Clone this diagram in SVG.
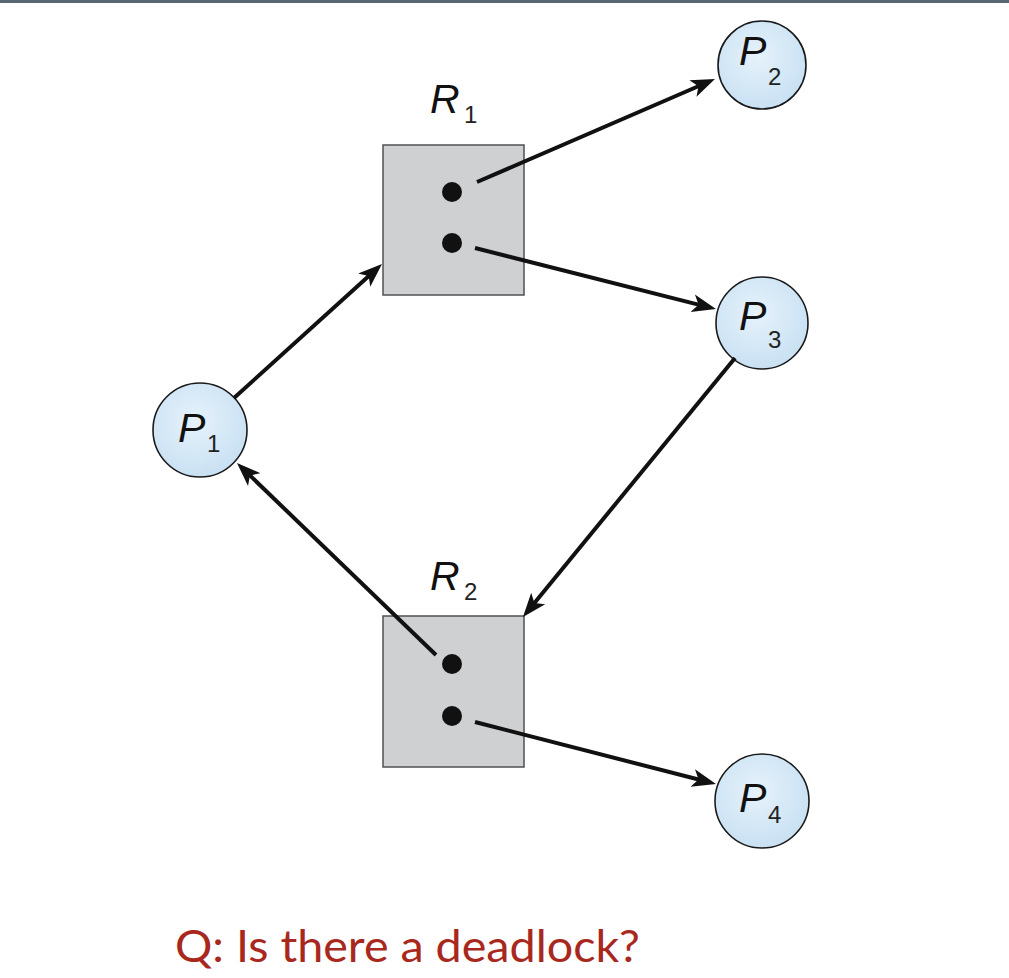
<svg xmlns="http://www.w3.org/2000/svg" width="1009" height="978" viewBox="0 0 1009 978">
<style>
.res{fill:#cfd0d2;stroke:#505050;stroke-width:1.5}
.dot{fill:#111}
.proc{fill:url(#pg);stroke:#1a1a1a;stroke-width:1.6}
.lbl{font-family:"Liberation Sans",Arial,sans-serif;font-style:italic;font-size:41px;fill:#111}
.sub{font-family:"Liberation Sans",Arial,sans-serif;font-size:24px;fill:#222}
.edge{stroke:#111;stroke-width:4;fill:none;marker-end:url(#ah)}
.q{font-family:Lato,"Open Sans",sans-serif;font-size:44px;fill:#a8281e}
</style>
<defs>
<radialGradient id="pg" cx="0.45" cy="0.4" r="0.6">
<stop offset="0" stop-color="#e6f2fb"/>
<stop offset="1" stop-color="#c9e1f3"/>
</radialGradient>
<marker id="ah" markerUnits="userSpaceOnUse" markerWidth="26" markerHeight="20" refX="14" refY="9" orient="auto" viewBox="0 0 26 18">
<path d="M0,0 L24,9 L0,18 L6,9 z" fill="#111"/>
</marker>
</defs>
<rect x="0" y="0" width="1009" height="3" fill="#5a6670"/>
<g id="R1">
<rect class="res" x="383" y="145" width="141" height="150"/>
<circle class="dot" cx="452" cy="192" r="10"/>
<circle class="dot" cx="452" cy="243" r="10"/>
<text class="lbl" x="430" y="113">R</text><text class="sub" x="464" y="123">1</text>
</g>
<g id="R2">
<rect class="res" x="383" y="616" width="141" height="151"/>
<circle class="dot" cx="452" cy="664" r="10"/>
<circle class="dot" cx="452" cy="716" r="10"/>
<text class="lbl" x="430" y="590">R</text><text class="sub" x="464" y="600">2</text>
</g>
<g id="P1">
<circle class="proc" cx="200" cy="430" r="47"/>
<text class="lbl" x="178" y="442">P</text><text class="sub" x="207" y="452">1</text>
</g>
<g id="P2">
<circle class="proc" cx="762" cy="65" r="44"/>
<text class="lbl" x="739" y="65">P</text><text class="sub" x="768" y="85">2</text>
</g>
<g id="P3">
<circle class="proc" cx="762" cy="323" r="46"/>
<text class="lbl" x="739" y="330">P</text><text class="sub" x="768" y="348">3</text>
</g>
<g id="P4">
<circle class="proc" cx="762" cy="801" r="47"/>
<text class="lbl" x="739" y="812">P</text><text class="sub" x="768" y="823">4</text>
</g>
<g id="connectors">
<path class="edge" d="M477,182 L705.8,83"/>
<path class="edge" d="M475,248 L706.3,306.6"/>
<path class="edge" d="M234,398 L374.6,270.7"/>
<path class="edge" d="M735,358 L529.3,609.3"/>
<path class="edge" d="M436,655 L244.2,469.9"/>
<path class="edge" d="M475,722 L706.3,781.5"/>
</g>
<text class="q" x="175" y="962" textLength="465" lengthAdjust="spacingAndGlyphs">Q: Is there a deadlock?</text>
</svg>
